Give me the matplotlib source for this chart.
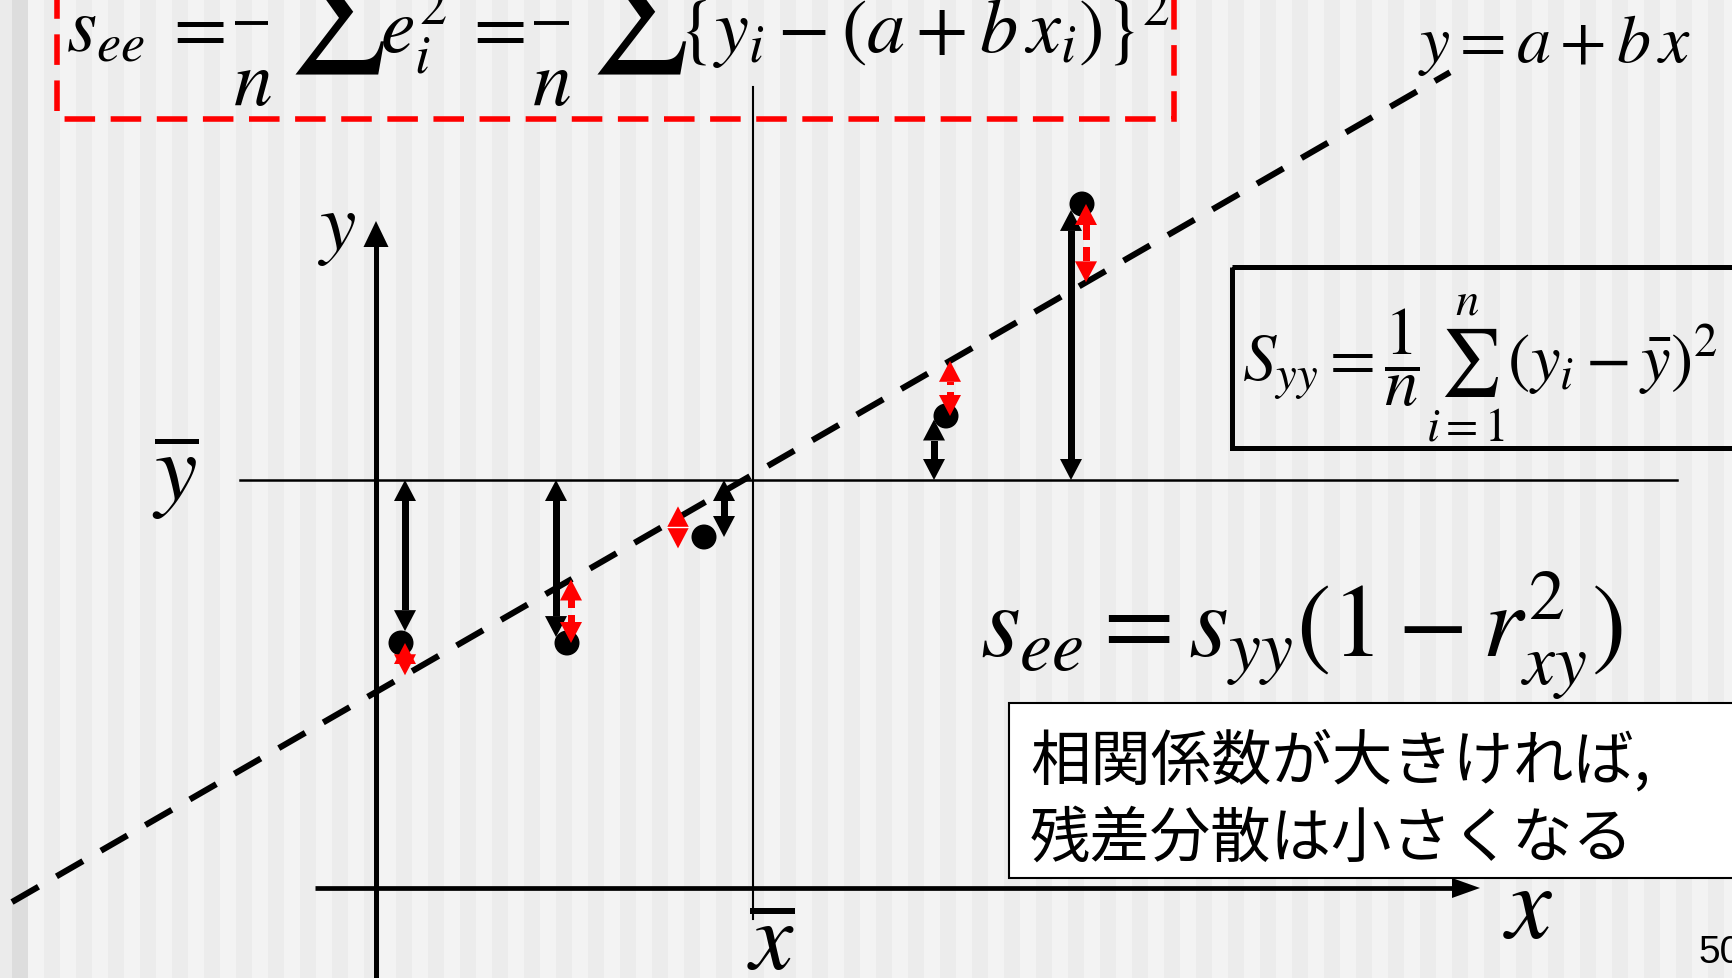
import numpy as np
import matplotlib
matplotlib.use("Agg")
import matplotlib.pyplot as plt
from matplotlib.patches import Polygon, Rectangle

plt.rcParams['mathtext.fontset'] = 'stix'

W, H, DPI = 1733, 979, 100

# observations (diagram units, 1 unit = 100 px, origin where the axes cross)
x_obs = [0.25, 1.91, 3.28, 5.70, 7.06]
y_obs = [2.45, 2.45, 3.51, 4.72, 6.84]
x_mean = 3.77
y_mean = 4.08
a_fit = 1.96
b_fit = 0.577
line_span = [-3.64, 10.74]

# horizontal nudges of the deviation arrows relative to their point
dx_total = [0.04, -0.11, 0.20, -0.12, -0.11]
dx_resid = [0.04, 0.04, -0.26, 0.04, 0.04]

RED = '#ff0000'
PT_R = 0.125          # point radius (units)

fig = plt.figure(figsize=(W / DPI, H / DPI), dpi=DPI)

# ---- striped slide backdrop ----
bg = fig.add_axes([0, 0, 1, 1], zorder=0)
bg.axis('off')
shade = np.empty(W)
for px in range(W):
    if px < 12:
        shade[px] = 0.92
    elif px < 28:
        shade[px] = 0.866
    else:
        shade[px] = 0.957 if ((px - 28) // 16) % 2 == 0 else 0.925
bg.imshow(np.tile(shade, (2, 1)), cmap='gray', vmin=0, vmax=1,
          extent=(0, W, H, 0), aspect='auto', interpolation='nearest')
bg.set_xlim(0, W)
bg.set_ylim(H, 0)

# ---- diagram axes ----
ax = fig.add_axes([0, 0, 1, 1], zorder=1)
ax.set_xlim(-3.76, 13.57)
ax.set_ylim(-0.90, 8.89)
ax.axis('off')
ax.patch.set_alpha(0)


def head(x, tip, direction, length, width, color, z):
    base = tip - direction * length
    ax.add_patch(Polygon([(x - width / 2, base), (x + width / 2, base), (x, tip)],
                         closed=True, facecolor=color, edgecolor='none', zorder=z))


def shaft(x, y0, y1, width, color, z):
    lo, hi = sorted((y0, y1))
    if hi > lo:
        ax.add_patch(Rectangle((x - width / 2, lo), width, hi - lo,
                               facecolor=color, edgecolor='none', zorder=z))


def double_arrow(x, y0, y1, color, z, hl=0.21, hw=0.22, sw=0.07, gap=0.0):
    d = 1 if y1 > y0 else -1
    if abs(y1 - y0) < hl:
        # too short for two heads: open it up to a diamond
        mid = 0.5 * (y0 + y1)
        y0, y1 = mid - d * hl, mid + d * hl
    head(x, y0, -d, hl, hw, color, z)
    head(x, y1, d, hl, hw, color, z)
    b0 = y0 + d * hl
    b1 = y1 - d * hl
    if (b1 - b0) * d > 0.005:
        if gap > 0:
            mid = 0.5 * (b0 + b1)
            g = min(gap, abs(b1 - b0)) / 2
            shaft(x, b0, mid - d * g, sw, color, z)
            shaft(x, mid + d * g, b1, sw, color, z)
        else:
            shaft(x, b0, b1, sw, color, z)
    elif gap > 0 and abs(b1 - b0) <= 0.005:
        mid = 0.5 * (y0 + y1)
        ax.plot([x - hw / 2, x + hw / 2], [mid, mid], color='white', lw=1.0, zorder=z + 0.1)


# axes with arrow heads
ax.plot([0, 0], [-0.95, 6.67 - 0.2], color='black', lw=3.6, solid_capstyle='butt', zorder=2)
head(0, 6.67, 1, 0.26, 0.25, 'black', 2)
ax.plot([-0.61, 11.04 - 0.2], [0, 0], color='black', lw=3.4, solid_capstyle='butt', zorder=2)
ax.add_patch(Polygon([(11.04 - 0.28, 0.10), (11.04 - 0.28, -0.10), (11.04, 0)],
                     closed=True, facecolor='black', edgecolor='none', zorder=2))

# mean lines
ax.plot([-1.36, 13.01], [y_mean, y_mean], color='black', lw=1.8, zorder=2)
ax.plot([x_mean, x_mean], [-0.31, 8.01], color='black', lw=1.5, zorder=2)

# fitted line y = a + b x
xs = np.array(line_span)
ax.plot(xs, a_fit + b_fit * xs, color='black', lw=4.4, dashes=(5.0, 3.4),
        dash_capstyle='butt', zorder=2)

# observations
ax.scatter(x_obs, y_obs, s=(2 * PT_R * 100 * 72 / DPI) ** 2, color='black',
           edgecolors='none', zorder=3)

# total deviation (from mean) and residual (from fitted line) arrows
for xi, yi, dt, dr in zip(x_obs, y_obs, dx_total, dx_resid):
    sgn = 1 if y_mean > yi else -1
    edge = np.sqrt(max(PT_R ** 2 - dt ** 2, 0.0))
    double_arrow(xi + dt, y_mean, yi + sgn * edge, 'black', 4)
    xr = xi + dr
    double_arrow(xr, a_fit + b_fit * xr, yi, RED, 5, gap=0.07)

# ---- overlay in pixel coordinates for formulas and boxes ----
ov = fig.add_axes([0, 0, 1, 1], zorder=3)
ov.set_xlim(0, W)
ov.set_ylim(H, 0)
ov.axis('off')
ov.patch.set_alpha(0)


def put(x, y, s, size, ha='left', va='baseline', **kw):
    ov.text(x, y, s, fontsize=size, ha=ha, va=va, color='black', **kw)


# residual variance definition (red dashed frame)
ov.add_patch(Rectangle((57, -30), 1174 - 57, 150, fill=False, edgecolor=RED,
                       lw=4.0, linestyle=(0, (5.5, 2.8))))
FS = 56
put(66, 51, r'$s_{ee}$', FS)
put(162, 50, r'$=$', FS)
ov.plot([235, 268], [24, 24], color='black', lw=2.8, solid_capstyle='butt')
put(233, 105, r'$n$', FS)
put(288, 46, r'$\sum$', 80)
put(380, 52, r'$e_i^2$', FS)
put(462, 50, r'$=$', FS)
ov.plot([534, 569], [24, 24], color='black', lw=2.8, solid_capstyle='butt')
put(532, 105, r'$n$', FS)
put(590, 46, r'$\sum$', 80)
put(678, 52, r'$\{y_i - (a + b\,x_i)\}^2$', 55)

# line label
put(1418, 62, r'$y = a + b\,x$', 49)

# axis labels
put(318, 249, r'$y$', 59)
put(152, 501, r'$\overline{y}$', 69)
put(771, 970, r'$\overline{x}$', 70, ha='center')
put(1503, 937, r'$x$', 74)

# variance of y (black frame)
ov.add_patch(Rectangle((1232, 268), 560, 181, fill=False, edgecolor='black', lw=3.6))
put(1242, 381, r'$S_{yy} = \dfrac{1}{n}\sum_{i=1}^{n}(y_i - \bar{y})^2$', 48)

# relation between residual variance and correlation
put(980, 657, r'$s_{ee} = s_{yy}(1 - r_{xy}^2)$', 74)

ov.add_patch(Rectangle((1009, 704), 760, 175, facecolor='white', edgecolor='black', lw=1.5))
put(1030, 731, '相関係数が大きければ,\n残差分散は小さくなる', 43.5, va='top',
    linespacing=1.31, family=['Noto Sans CJK JP'])

put(1698, 963, '50', 28, family=['Liberation Sans'])

fig.savefig('out.png', dpi=DPI)
